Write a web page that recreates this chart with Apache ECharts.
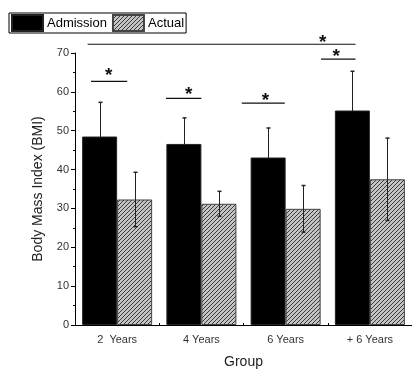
<!DOCTYPE html>
<html>
<head>
<meta charset="utf-8">
<script src="https://cdn.jsdelivr.net/npm/echarts@6/dist/echarts.min.js"></script>
<style>html,body{margin:0;padding:0;background:#fff;}#main{width:412px;height:374px;}</style>
</head>
<body>
<div id="main"></div>
<script>
var groups = ['2  Years', '4 Years', '6 Years', '+ 6 Years'];
var admission = [48.5, 46.6, 43.1, 55.2];
var admissionSd = [8.8, 6.7, 7.6, 10.1];
var actual = [32.3, 31.2, 29.9, 37.5];
var actualSd = [7.0, 3.2, 6.0, 10.6];
// significance brackets: [xStart, xEnd, y] in group units (0..4)
var sigLines = [[0.19, 0.62, 62.7], [1.08, 1.50, 58.3], [1.98, 2.49, 57.1], [2.92, 3.33, 68.4], [0.15, 3.33, 72.25]];
var sigStars = [[0.40, 65.4], [1.35, 60.5], [2.26, 58.9], [3.10, 70.2], [2.94, 74.0]];

// hatch pattern for "Actual"
var pat = document.createElement('canvas');
pat.width = 4; pat.height = 4;
var pc = pat.getContext('2d');
pc.fillStyle = '#c4c4c4'; pc.fillRect(0, 0, 4, 4);
pc.strokeStyle = '#3a3a3a'; pc.lineWidth = 1;
pc.beginPath(); pc.moveTo(0, 4); pc.lineTo(4, 0); pc.moveTo(-1, 1); pc.lineTo(1, -1); pc.moveTo(3, 5); pc.lineTo(5, 3); pc.stroke();
var hatch = {image: pat, repeat: 'repeat'};

var chart = echarts.init(document.getElementById('main'));
var fnt = 'Liberation Sans, Arial, sans-serif';

function errBar(vals, sds, off) {
	return function (params, api) {
		var i = api.value(0);
		var top = api.coord([i, vals[i] + sds[i]]);
		var bot = api.coord([i, vals[i] - sds[i]]);
		var x = Math.round(top[0] + off) + 0.5;
		return {type: 'group', children: [
			{type: 'line', shape: {x1: x, y1: top[1], x2: x, y2: bot[1]}, style: {stroke: '#222', lineWidth: 1}},
			{type: 'line', shape: {x1: x - 2, y1: top[1], x2: x + 2, y2: top[1]}, style: {stroke: '#222', lineWidth: 1.5}},
			{type: 'line', shape: {x1: x - 2, y1: bot[1], x2: x + 2, y2: bot[1]}, style: {stroke: '#222', lineWidth: 1.5}}
		]};
	};
}

var option = {
	animation: false,
	legend: {
		left: 9, top: 13, padding: [1, 2, 1, 2], borderColor: '#000', borderWidth: 1,
		itemWidth: 31, itemHeight: 16, itemGap: 5, icon: 'rect',
		data: ['Admission', 'Actual'],
		textStyle: {fontFamily: fnt, fontSize: 13, color: '#000', padding: [0, 0, 0, -1]}
	},
	grid: {left: 75, top: 53, width: 344, height: 280},
	xAxis: [{
		type: 'category', data: groups,
		name: 'Group', nameLocation: 'middle', nameGap: 30,
		nameTextStyle: {fontFamily: fnt, fontSize: 14, color: '#222'},
		axisLine: {lineStyle: {color: '#000', width: 1}},
		axisTick: {alignWithLabel: true, length: 4, lineStyle: {color: '#000'}},
		axisLabel: {fontFamily: fnt, fontSize: 11, color: '#333', margin: 9}
	}, {
		type: 'value', min: 0, max: 4, interval: 1, show: true,
		position: 'bottom',
		axisLine: {show: false}, axisLabel: {show: false}, splitLine: {show: false},
		axisTick: {show: true, inside: true, length: 2, lineStyle: {color: '#000'}}
	}],
	yAxis: {
		type: 'value', min: 0, max: 70, interval: 10,
		name: 'Body Mass Index (BMI)', nameLocation: 'middle', nameGap: 30,
		nameTextStyle: {fontFamily: fnt, fontSize: 14, color: '#222'},
		axisLine: {show: true, lineStyle: {color: '#000'}},
		axisTick: {show: true, length: 4, lineStyle: {color: '#000'}},
		minorTick: {show: true, splitNumber: 2, length: 2, lineStyle: {color: '#000'}},
		splitLine: {show: false},
		axisLabel: {fontFamily: fnt, fontSize: 11, color: '#333', margin: 6}
	},
	series: [{
		name: 'Admission', type: 'bar', data: admission, barWidth: 35, barGap: '0%', z: 2,
		itemStyle: {color: '#000', borderColor: '#222', borderWidth: 1}
	}, {
		name: 'Actual', type: 'bar', data: actual, barWidth: 35, barGap: '0%', z: 2,
		itemStyle: {color: hatch, borderColor: '#444', borderWidth: 1}
	}, {
		type: 'custom', data: [0, 1, 2, 3], renderItem: errBar(admission, admissionSd, -17.5), z: 1
	}, {
		type: 'custom', data: [0, 1, 2, 3], renderItem: errBar(actual, actualSd, 17.5), z: 3
	}, {
		type: 'custom', xAxisIndex: 1, clip: false, data: sigLines,
		renderItem: function (params, api) {
			var a = api.coord([api.value(0), api.value(2)]);
			var b = api.coord([api.value(1), api.value(2)]);
			return {type: 'line', shape: {x1: a[0], y1: a[1], x2: b[0], y2: b[1]}, style: {stroke: '#111', lineWidth: 1.2}};
		}
	}, {
		type: 'custom', xAxisIndex: 1, clip: false, data: sigStars,
		renderItem: function (params, api) {
			var p = api.coord([api.value(0), api.value(1)]);
			return {type: 'text', x: p[0], y: p[1] + 5, style: {text: '*', fontFamily: fnt, fontSize: 19, fontWeight: 'bold', fill: '#111', align: 'center', verticalAlign: 'middle'}};
		}
	}]
};
chart.setOption(option);
</script>
</body>
</html>
